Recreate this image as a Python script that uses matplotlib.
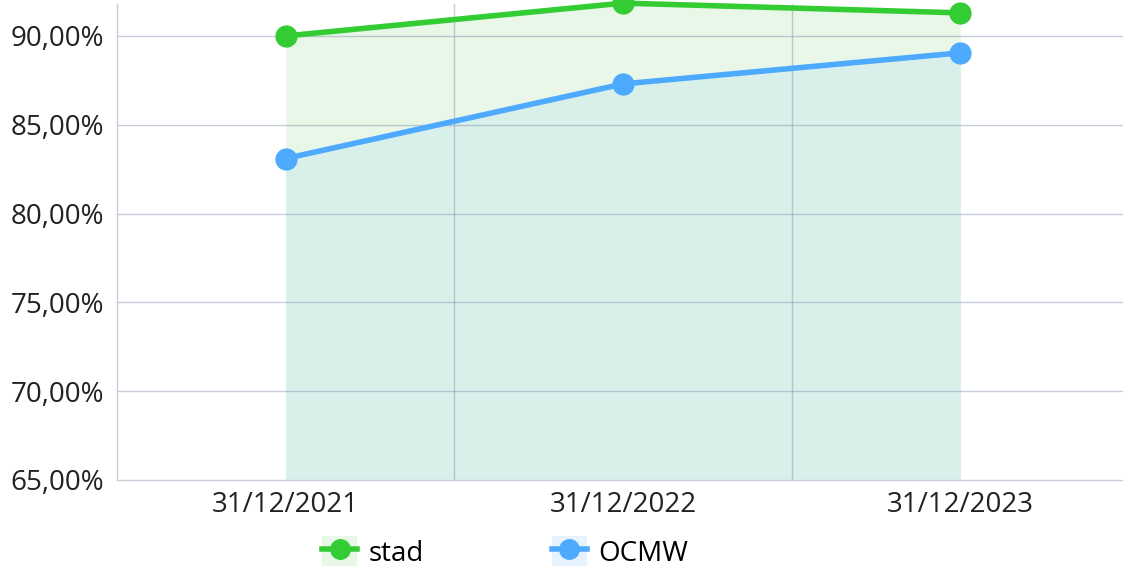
import matplotlib
matplotlib.use("Agg")
from matplotlib import pyplot as plt
from matplotlib.lines import Line2D
from matplotlib.patches import Patch
from matplotlib.legend_handler import HandlerTuple

datums = ['31/12/2021', '31/12/2022', '31/12/2023']
stad = [90.0, 91.85, 91.3]
ocmw = [83.1, 87.3, 89.05]
y_ticks = [65, 70, 75, 80, 85, 90]

GROEN = '#33cc33'
BLAUW = '#4daaff'
GRID = '#7f93ad'

plt.rcParams['font.family'] = ['Open Sans', 'DejaVu Sans']

fig = plt.figure(figsize=(11.23, 5.71), dpi=100)
# plot area runs a little past the right edge, like the original
ax = fig.add_axes([117 / 1123, 1 - 480 / 571, 1012 / 1123, 476 / 571])

x = list(range(len(datums)))
ax.fill_between(x, 65, stad, color='#e8f7e8', lw=0, zorder=1)
ax.fill_between(x, 65, ocmw, color='#d9f0ea', lw=0, zorder=1)
ax.plot(x, stad, color=GROEN, lw=4, marker='o', ms=15, clip_on=False, zorder=4)
ax.plot(x, ocmw, color=BLAUW, lw=4, marker='o', ms=15, clip_on=False, zorder=4)

ax.set_xlim(-0.5, 2.5)
ax.set_ylim(65, 91.8)
ax.set_yticks(y_ticks)
ax.set_yticklabels([f'{v:.2f}'.replace('.', ',') + '%' for v in y_ticks])
ax.set_xticks(x)
ax.set_xticklabels(datums)
ax.tick_params(length=0, labelsize=20, labelcolor='#222222')
ax.tick_params(axis='y', pad=9)
ax.tick_params(axis='x', pad=8)

for v in y_ticks[1:]:
    ax.axhline(v, color=GRID, alpha=0.45, lw=1, zorder=2)
for v in [0.5, 1.5]:
    ax.axvline(v, color=GRID, alpha=0.45, lw=1, zorder=2)
for s in ['top', 'right']:
    ax.spines[s].set_visible(False)
for s in ['left', 'bottom']:
    ax.spines[s].set_color('#c5ceda')
    ax.spines[s].set_linewidth(1)

handles = [
    (Patch(facecolor='#e8f7e8', edgecolor='none'), Line2D([], [], color=GROEN, lw=4, marker='o', ms=14)),
    (Patch(facecolor='#e6f3ff', edgecolor='none'), Line2D([], [], color=BLAUW, lw=4, marker='o', ms=14)),
]
fig.legend(handles, ['stad', 'OCMW'], handler_map={tuple: HandlerTuple(ndivide=1)},
           loc='center', bbox_to_anchor=(505 / 1123, 1 - 552 / 571), ncol=2, frameon=False,
           fontsize=20, handlelength=1.27, handleheight=1.27, handletextpad=0.4, columnspacing=4.6)

fig.savefig('out.png', dpi=100)
